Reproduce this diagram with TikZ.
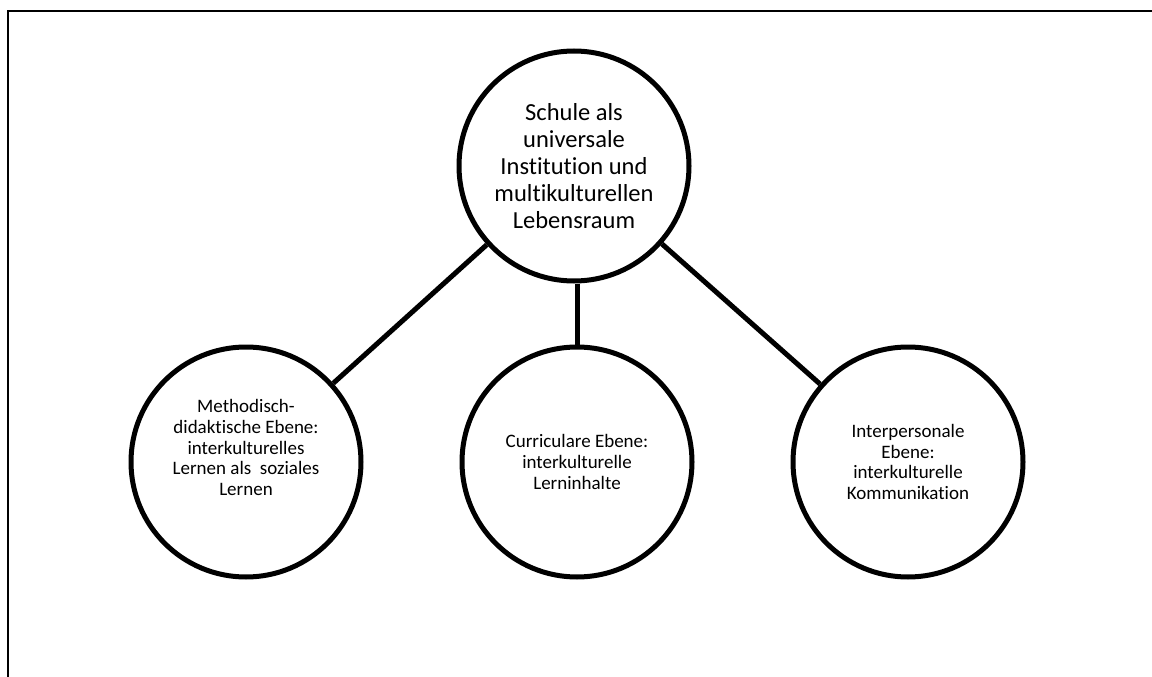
\documentclass[tikz,border=0pt]{standalone}
\usepackage{fontspec}
\setmainfont{Carlito}[Ligatures=NoCommon]
\begin{document}
\begin{tikzpicture}[x=1pt,y=-1pt,
  bubble/.style={circle,draw,line width=5pt,minimum size=230pt,inner sep=0pt,align=center},
  bigtext/.style={font=\fontsize{24.5}{27}\selectfont},
  smalltext/.style={font=\fontsize{19}{20.7}\selectfont},
  link/.style={line width=5pt}]
  \useasboundingbox (0,0) rectangle (1152,677);
  % frame: only top and left edges are visible
  \coordinate (fbl) at (8,677);
  \coordinate (ftl) at (8,11);
  \coordinate (ftr) at (1152,11);
  \draw[line width=2pt] (fbl) -- (ftl) -- (ftr);

  \node[bubble,bigtext] (top) at (574,166)
    {Schule als\\universale\\Institution und\\multikulturellen\\Lebensraum};
  \node[bubble,smalltext] (left) at (246,462)
    {Methodisch-\\didaktische Ebene:\\interkulturelles\\Lernen als\ \ soziales\\Lernen\\[8pt]~};
  \node[bubble,smalltext] (mid) at (577,462)
    {Curriculare Ebene:\\interkulturelle\\Lerninhalte};
  \node[bubble,smalltext] (right) at (908,462)
    {Interpersonale\\Ebene:\\interkulturelle\\Kommunikation};

  \draw[link] (top) -- (left);
  \draw[link] (top.south -| mid.north) -- (mid.north);
  \draw[link] (top) -- (right);
\end{tikzpicture}
\end{document}
